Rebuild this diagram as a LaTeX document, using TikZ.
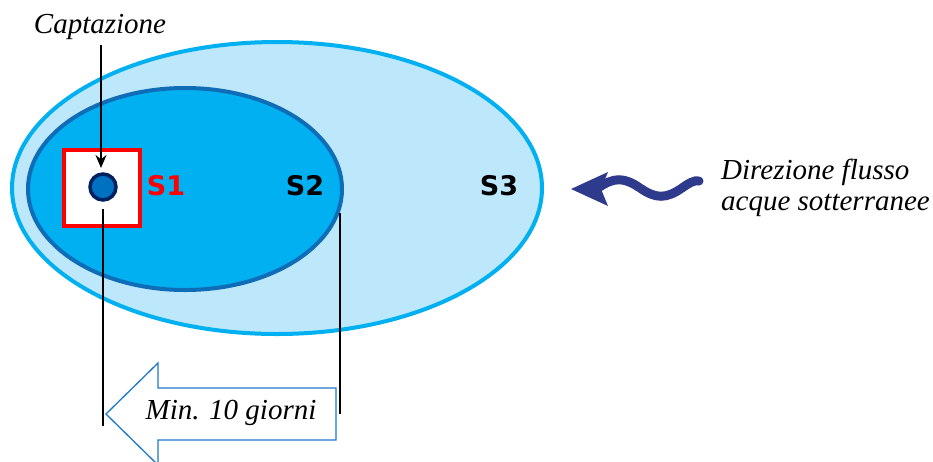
\documentclass[tikz,border=0pt]{standalone}
\usepackage{fontspec}
\setmainfont{Liberation Serif}
\newfontfamily\labelfont{DejaVu Sans}
\usetikzlibrary{arrows.meta}
\definecolor{sthree}{HTML}{BDE7FB}
\definecolor{sthreeline}{HTML}{00B0F0}
\definecolor{stwo}{HTML}{00B0F0}
\definecolor{stwoline}{HTML}{0F6CB6}
\definecolor{wellfill}{HTML}{0070C0}
\definecolor{wellline}{HTML}{002060}
\definecolor{flow}{HTML}{2E3A8C}
\definecolor{blockline}{HTML}{1E78C8}
\tikzset{
  zonelabel/.style={font=\labelfont\bfseries\fontsize{27}{30}\selectfont, inner sep=0pt},
  ittext/.style={font=\itshape\fontsize{29}{33}\selectfont, inner sep=0pt},
  leader/.style={draw=black, line width=1.2pt},
}
\begin{document}
\begin{tikzpicture}[x=1pt,y=-1pt]
\useasboundingbox (0,0) rectangle (933,461);
% S3 zone
\draw[fill=sthree, draw=sthreeline, line width=4pt] (277,188) ellipse [x radius=265, y radius=146];
% S2 zone
\draw[fill=stwo, draw=stwoline, line width=4pt] (185,189) ellipse [x radius=157, y radius=101];
% S1 square
\node[draw=red, fill=white, line width=4pt, minimum width=76pt, minimum height=76pt, inner sep=0pt] (s1box) at (102,188) {};
% well
\node[circle, fill=wellfill, draw=wellline, line width=3.5pt, minimum size=26pt, inner sep=0pt] (well) at (103,187) {};
% labels
\node[zonelabel, text=red] (s1) at (166,186) {S1};
\node[zonelabel] (s2) at (305,186) {S2};
\node[zonelabel] (s3) at (499,186) {S3};
% Captazione
\node[ittext] (capt) at (100,27) {Captazione};
\coordinate (captend) at (101,168);
\draw[line width=1.4pt, -{Stealth[length=13pt,width=11pt]}] (101,45) -- (captend);
% leaders
\coordinate (l1top) at (103,209);
\coordinate (l1bot) at (103,426);
\coordinate (l2top) at (340,213);
\coordinate (l2bot) at (340,414);
\draw[leader] (l1top) -- (l1bot);
\draw[leader] (l2top) -- (l2bot);
% block arrow
\draw[draw=blockline, fill=white, line width=1.3pt] (336,388) -- (158,388) -- (158,363) -- (106,414) -- (158,465) -- (158,440) -- (336,440) -- cycle;
\node[ittext] (min) at (231,413) {Min. 10 giorni};
% flow arrow
\draw[flow, line width=9pt, line cap=round] (598,188) .. controls (614,177) and (624,177) .. (640,188) .. controls (656,199) and (666,199) .. (682,188) .. controls (689,183) and (694,180) .. (699,181);
\fill[flow] (571,189) -- (608,172) -- (601,189) -- (608,206) -- cycle;
% flow text
\node[ittext, anchor=west] (dir1) at (721,172) {Direzione flusso};
\node[ittext, anchor=west] (dir2) at (721,205) {acque sotterranee};
\end{tikzpicture}
\end{document}
